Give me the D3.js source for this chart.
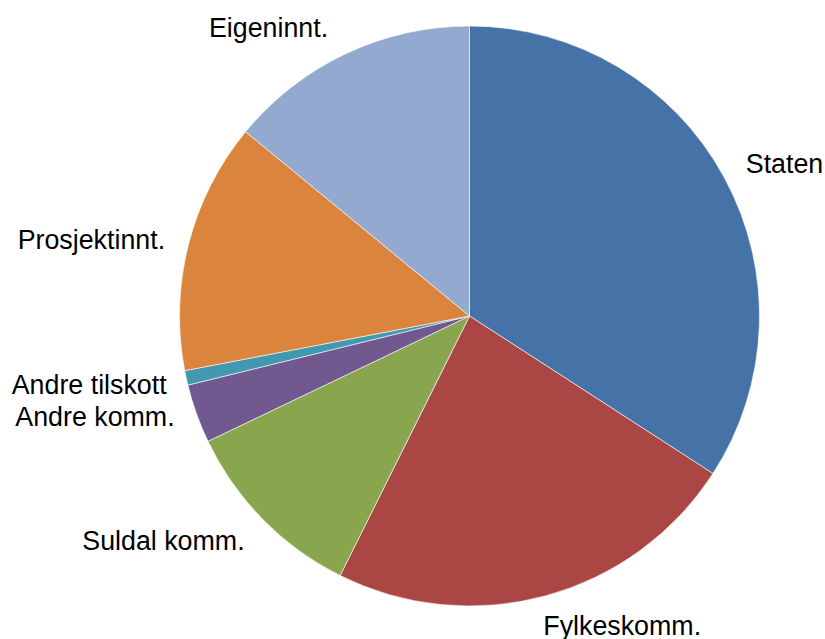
<!DOCTYPE html>
<html>
<head>
<meta charset="utf-8">
<script src="https://cdn.jsdelivr.net/npm/d3@7"></script>
<style>
  html, body { margin: 0; padding: 0; background: #fff; }
  svg { display: block; }
</style>
</head>
<body>
<svg id="chart" width="825" height="639"></svg>
<script>
// Data
const categories = ["Staten", "Fylkeskomm.", "Suldal komm.", "Andre komm.", "Andre tilskott", "Prosjektinnt.", "Eigeninnt."];
const values = [34.14, 23.22, 10.53, 3.28, 0.81, 13.98, 14.04];
const colors = ["#4572A7", "#AA4643", "#89A54E", "#71588F", "#4198AF", "#DB843D", "#93A9CF"];

// Layout (not data)
const width = 825, height = 639;
const cx = 469.5, cy = 316, radius = 290;
const labelRadius = 310;
const labelNudge = [[4, 0], [-8, 1], [-4, 0], [-3, -7], [0, 0], [-4, 2], [-9, 0]];

const svg = d3.select("#chart");
const g = svg.append("g").attr("transform", `translate(${cx},${cy})`);

const pie = d3.pie().sort(null).value(d => d.value);
const arcs = pie(categories.map((c, i) => ({ name: c, value: values[i], color: colors[i], i })));
const arc = d3.arc().innerRadius(0).outerRadius(radius);

g.selectAll("path.slice")
  .data(arcs)
  .enter().append("path")
  .attr("class", "slice")
  .attr("d", arc)
  .attr("fill", d => d.data.color)
  .attr("stroke", "#ffffff")
  .attr("stroke-width", 0.6);

const capHalf = 9.5;
g.selectAll("text.label")
  .data(arcs)
  .enter().append("text")
  .attr("class", "label")
  .each(function(d) {
    const a = (d.startAngle + d.endAngle) / 2;
    const s = Math.sin(a), c = Math.cos(a);
    let x = labelRadius * s;
    let y = -labelRadius * c;
    const anchor = s > 0.1 ? "start" : (s < -0.1 ? "end" : "middle");
    y += (-c) * capHalf;
    const n = labelNudge[d.data.i];
    d3.select(this)
      .attr("x", x + n[0])
      .attr("y", y + capHalf + n[1])
      .attr("text-anchor", anchor);
  })
  .style("font-family", "'Liberation Sans', Arial, sans-serif")
  .style("font-size", "26.8px")
  .attr("fill", "#000")
  .text(d => d.data.name);
</script>
</body>
</html>
